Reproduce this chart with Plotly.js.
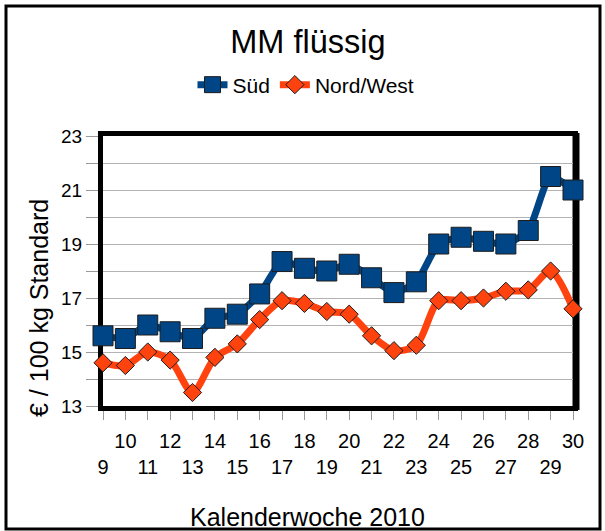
<!DOCTYPE html>
<html><head><meta charset="utf-8">
<script src="https://cdn.plot.ly/plotly-3.0.1.min.js"></script>
<style>html,body{margin:0;padding:0;background:#fff;}#chart{width:605px;height:531px;}</style>
</head><body><div id="chart"></div>
<script>
const weeks = [9,10,11,12,13,14,15,16,17,18,19,20,21,22,23,24,25,26,27,28,29,30];
const sued = [15.6,15.5,16.0,15.75,15.5,16.25,16.4,17.15,18.35,18.1,18.0,18.25,17.75,17.2,17.6,19.0,19.25,19.1,19.0,19.5,21.5,21.0];
const nordWest = [14.6,14.5,15.0,14.7,13.5,14.8,15.3,16.2,16.9,16.8,16.5,16.4,15.6,15.05,15.25,16.9,16.9,17.0,17.25,17.3,18.0,16.6];
const xTickText = weeks.map(w => (w % 2 === 1) ? '<br>' + w : String(w));
const yTicks = [13,15,17,19,21,23];

const FONT = 'Liberation Sans, Arial, sans-serif';
const px2x = p => (p - 103) / 470;
const py2y = p => (406 - p) / 270;

const traces = [
  {x: weeks, y: sued, name: 'Süd', type: 'scatter', mode: 'lines+markers', cliponaxis: false,
   line: {color: '#004586', width: 7, shape: 'spline', smoothing: 0.6},
   marker: {symbol: 'square', size: 20, color: '#004586', line: {color: '#1c1c1c', width: 1}}},
  {x: weeks, y: nordWest, name: 'Nord/West', type: 'scatter', mode: 'lines+markers', cliponaxis: false,
   line: {color: '#ff420e', width: 7, shape: 'spline', smoothing: 0.8},
   marker: {symbol: 'diamond', size: 14, color: '#ff420e', line: {color: '#1c1c1c', width: 1}}}
];

const layout = {
  width: 605, height: 531,
  margin: {l: 103, r: 32, t: 136, b: 125},
  paper_bgcolor: '#fff', plot_bgcolor: '#fff',
  font: {family: FONT, color: '#000', size: 18},
  title: {text: 'MM flüssig', font: {family: FONT, size: 32.5, color: '#000'},
          x: 0.509, xref: 'container', y: 1 - 42/531, yref: 'container', xanchor: 'center', yanchor: 'middle'},
  showlegend: true,
  legend: {orientation: 'h', x: px2x(306), xanchor: 'center', y: py2y(85), yanchor: 'middle',
           font: {family: FONT, size: 21}, itemwidth: 30, tracegroupgap: 0, bgcolor: 'rgba(0,0,0,0)'},
  xaxis: {range: [9, 30], tickvals: weeks, ticktext: xTickText, tickangle: 0,
          showline: true, linecolor: '#000', linewidth: 5, mirror: true,
          ticks: 'outside', ticklen: 9, tickcolor: '#999', tickwidth: 1, ticklabelstandoff: 4,
          showgrid: false, zeroline: false, layer: 'below traces',
          tickfont: {family: FONT, size: 20}},
  yaxis: {range: [13, 23], tickvals: yTicks, ticktext: yTicks.map(String),
          showline: true, linecolor: '#000', linewidth: 5, mirror: true,
          ticks: 'outside', ticklen: 12, tickcolor: '#999', tickwidth: 1,
          showgrid: true, gridcolor: '#b3b3b3', gridwidth: 1, zeroline: false, layer: 'below traces',
          minor: {dtick: 1, tick0: 13, showgrid: true, gridcolor: '#b3b3b3', gridwidth: 1, ticks: 'outside', ticklen: 12, tickcolor: '#999'},
          tickfont: {family: FONT, size: 19}},
  annotations: [
    {text: 'Kalenderwoche 2010', xref: 'paper', yref: 'paper', x: px2x(307), y: py2y(517),
     xanchor: 'center', yanchor: 'middle', showarrow: false, font: {family: FONT, size: 25}},
    {text: '€ / 100 kg Standard', xref: 'paper', yref: 'paper', x: px2x(39), y: py2y(308),
     xanchor: 'center', yanchor: 'middle', textangle: -90, showarrow: false, font: {family: FONT, size: 25}}
  ],
  shapes: [
    {type: 'rect', xref: 'paper', yref: 'paper', x0: px2x(6), x1: px2x(600), y0: py2y(529), y1: py2y(6),
     line: {color: '#000', width: 3}, layer: 'below'},
    {type: 'line', xref: 'paper', yref: 'paper', x0: px2x(576), x1: px2x(576), y0: py2y(410), y1: py2y(133),
     line: {color: '#000', width: 7}, layer: 'below'}
  ]
};

Plotly.newPlot('chart', traces, layout, {displayModeBar: false, staticPlot: true});
</script></body></html>
